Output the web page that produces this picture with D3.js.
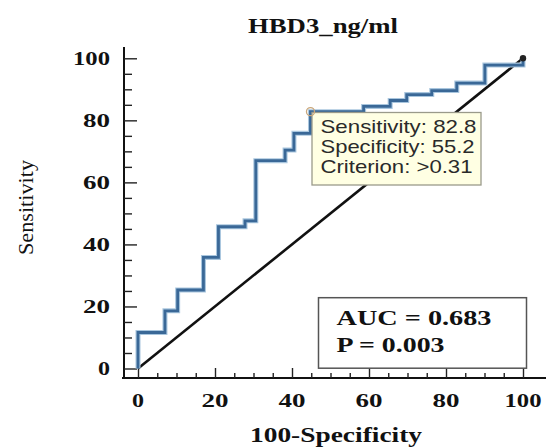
<!DOCTYPE html>
<html><head><meta charset="utf-8">
<script src="https://cdn.jsdelivr.net/npm/d3@7"></script>
<style>html,body{margin:0;padding:0;background:#fff;}</style>
</head><body>
<script>
// ---- data ----
const title = "HBD3_ng/ml";
const xLabel = "100-Specificity";
const yLabel = "Sensitivity";
const majorTicks = [0, 20, 40, 60, 80, 100];
const minorTicks = d3.range(0, 101, 5);
// ROC vertices (100-Specificity, Sensitivity), drawn as step-after
const rocFpr = [0, 0, 7.0, 10.3, 17.0, 20.9, 27.8, 30.6, 38.2, 40.5, 44.8, 58.6, 65.5, 69.8, 76.3, 82.8, 90.1, 100];
const rocTpr = [0, 11.6, 18.6, 25.3, 35.8, 45.7, 47.6, 67.0, 70.4, 75.8, 82.8, 84.5, 86.4, 88.3, 89.6, 92.0, 97.8, 100];
const diagFpr = [0, 100];
const diagTpr = [0, 100];
const optFpr = 44.8, optTpr = 82.8;
const tipLines = ["Sensitivity: 82.8", "Specificity: 55.2", "Criterion: >0.31"];
const statLines = ["AUC = 0.683", "P = 0.003"];

const W = 547, H = 447;
const svg = d3.select("body").append("svg").attr("width", W).attr("height", H)
  .style("display", "block").style("background", "#fff");

const x = d3.scaleLinear().domain([0, 100]).range([138, 523]);
const y = d3.scaleLinear().domain([0, 100]).range([368.5, 58.3]);
const axisY = 378, axisX = 124;

function txt(g, px, py, s, o) {
  const t = g.append("text").attr("x", px).attr("y", py).text(s)
    .attr("font-family", o.family || "Liberation Serif")
    .attr("font-size", o.size).attr("font-weight", o.weight || "bold")
    .attr("fill", o.fill || "#111")
    .attr("text-anchor", o.anchor || "start");
  if (o.len) t.attr("textLength", o.len).attr("lengthAdjust", "spacingAndGlyphs");
  if (o.rotate) t.attr("transform", `rotate(${o.rotate},${px},${py})`);
  return t;
}

// axes lines
svg.append("line").attr("x1", axisX).attr("x2", axisX).attr("y1", 47).attr("y2", axisY + 1)
  .attr("stroke", "#111").attr("stroke-width", 2);
svg.append("line").attr("x1", 122).attr("x2", 546).attr("y1", axisY).attr("y2", axisY)
  .attr("stroke", "#111").attr("stroke-width", 2);

// x ticks (pointing up)
const gx = svg.append("g").attr("transform", `translate(0,${axisY})`);
gx.call(d3.axisBottom(x).tickValues(minorTicks.filter(v => v % 20)).tickSize(-5).tickFormat(""));
gx.call(g => g.select(".domain").remove());
const gx2 = svg.append("g").attr("transform", `translate(0,${axisY})`);
gx2.call(d3.axisBottom(x).tickValues(majorTicks).tickSize(-10).tickFormat(""));
gx2.call(g => g.select(".domain").remove());
[gx, gx2].forEach(g => g.selectAll(".tick line").attr("stroke", "#222").attr("stroke-width", 1.4));

// y ticks (pointing right)
const gy = svg.append("g").attr("transform", `translate(${axisX},0)`);
gy.call(d3.axisLeft(y).tickValues(minorTicks.filter(v => v % 20)).tickSize(-8).tickFormat(""));
gy.call(g => g.select(".domain").remove());
const gy2 = svg.append("g").attr("transform", `translate(${axisX},0)`);
gy2.call(d3.axisLeft(y).tickValues(majorTicks).tickSize(-13).tickFormat(""));
gy2.call(g => g.select(".domain").remove());
[gy, gy2].forEach(g => g.selectAll(".tick line").attr("stroke", "#222").attr("stroke-width", 1.4));

const lenFor = v => String(v).length === 1 ? 12 : String(v).length === 2 ? 27 : 37;
majorTicks.forEach(v => {
  txt(svg, x(v), 406.5, String(v), {size: 19, anchor: "middle", len: lenFor(v)});
  txt(svg, 110, y(v) + 6.7, String(v), {size: 19, anchor: "end", len: lenFor(v)});
});

// titles
txt(svg, 323, 32.5, title, {size: 22, anchor: "middle", len: 150});
txt(svg, 336, 441.5, xLabel, {size: 20, anchor: "middle", len: 172});
txt(svg, 33, 207.5, yLabel, {size: 21, anchor: "middle", weight: "normal", len: 95, rotate: -90});

// diagonal
const line = d3.line().x(d => x(d[0])).y(d => y(d[1]));
svg.append("path").attr("d", line(d3.zip(diagFpr, diagTpr)))
  .attr("fill", "none").attr("stroke", "#111").attr("stroke-width", 2.6);

// ROC curve
const rocPts = d3.zip(rocFpr, rocTpr);
const stepLine = d3.line().x(d => x(d[0])).y(d => y(d[1])).curve(d3.curveStepAfter);
svg.append("path").attr("d", stepLine(rocPts))
  .attr("fill", "none").attr("stroke", "#a9c6de").attr("stroke-width", 5);
svg.append("path").attr("d", stepLine(rocPts))
  .attr("fill", "none").attr("stroke", "#3a6897").attr("stroke-width", 2.8);

// end marker
svg.append("circle").attr("cx", x(100)).attr("cy", y(100)).attr("r", 3.2).attr("fill", "#222");

// tooltip box
svg.append("rect").attr("x", 312).attr("y", 112.5).attr("width", 169).attr("height", 72.5)
  .attr("fill", "#ffffe3").attr("stroke", "#9a9a8a").attr("stroke-width", 1.3);
tipLines.forEach((s, i) => txt(svg, 320.5, 133.3 + i * 20, s,
  {size: 18.5, family: "Liberation Sans", weight: "normal", fill: "#2a2a2a", len: [156, 154, 152][i]}));
svg.append("circle").attr("cx", x(optFpr)).attr("cy", y(optTpr)).attr("r", 4)
  .attr("fill", "none").attr("stroke", "#c9a67a").attr("stroke-width", 1.3);

// AUC box
svg.append("rect").attr("x", 318.5).attr("y", 297.7).attr("width", 208).attr("height", 70.5)
  .attr("fill", "#fff").attr("stroke", "#555").attr("stroke-width", 1.5);
statLines.forEach((s, i) => txt(svg, 336.5, 325 + i * 26.7, s, {size: 21, len: [155, 108][i]}));
</script>
</body></html>
